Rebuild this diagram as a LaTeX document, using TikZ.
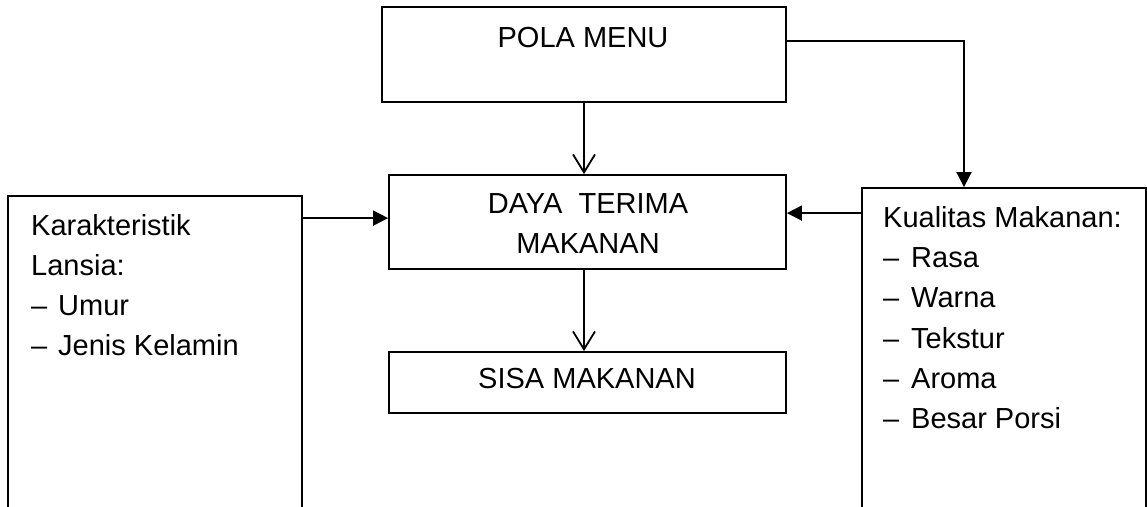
\documentclass[tikz,border=0pt]{standalone}
\usepackage{fontspec}
\setmainfont{Liberation Sans}
\usetikzlibrary{arrows.meta}
\begin{document}
\begin{tikzpicture}[x=1pt,y=-1pt,
  box/.style={draw, line width=1.8pt, rectangle, inner sep=0pt},
  txt/.style={font=\fontsize{29}{40}\selectfont, inner sep=0pt},
  lbl/.style={txt, anchor=base west},
  ctr/.style={txt, anchor=base},
  conn/.style={line width=1.8pt},
  fillarrow/.style={conn, -{Triangle[length=15pt,width=15pt]}},
  openarrow/.style={conn, -{Straight Barb[length=18pt,width=22pt]}}]
\useasboundingbox (0,0) rectangle (1147,506);
\clip (0,0) rectangle (1147,506);
% boxes
\node[box, minimum width=404pt, minimum height=95pt] (pola) at (584,54.5) {};
\node[box, minimum width=397pt, minimum height=94pt] (daya) at (587.5,222) {};
\node[box, minimum width=397pt, minimum height=61pt] (sisa) at (587.5,382.5) {};
\node[box, minimum width=294pt, minimum height=404pt] (kar) at (155,398) {};
\node[box, minimum width=284pt, minimum height=412pt] (kual) at (1004,394) {};
% texts
\node[ctr] (tpola) at (583,47) {POLA MENU};
\node[ctr] (tdaya1) at (588,213) {DAYA\ \ TERIMA};
\node[ctr] (tdaya2) at (588,253) {MAKANAN};
\node[ctr] (tsisa) at (587,388) {SISA MAKANAN};
% left box text
\node[lbl] (k1) at (31,235) {Karakteristik};
\node[lbl] (k2) at (31,275) {Lansia:};
\node[lbl] (k3d) at (31,315) {–};
\node[lbl] (k3) at (58,315) {Umur};
\node[lbl] (k4d) at (31,355) {–};
\node[lbl] (k4) at (58,355) {Jenis Kelamin};
% right box text
\node[lbl] (q0) at (883,227) {Kualitas Makanan:};
\node[lbl] (q1d) at (883,267) {–};
\node[lbl] (q1) at (911,267) {Rasa};
\node[lbl] (q2d) at (883,307) {–};
\node[lbl] (q2) at (911,307) {Warna};
\node[lbl] (q3d) at (883,348) {–};
\node[lbl] (q3) at (911,348) {Tekstur};
\node[lbl] (q4d) at (883,388) {–};
\node[lbl] (q4) at (911,388) {Aroma};
\node[lbl] (q5d) at (883,428) {–};
\node[lbl] (q5) at (911,428) {Besar Porsi};
% connectors
\draw[openarrow] (pola.south) -- (pola.south |- daya.north);
\draw[openarrow] (pola.south |- daya.south) -- (pola.south |- sisa.north);
\coordinate (ka) at ([yshift=-23pt]kar.north east);
\draw[fillarrow] (ka) -- (daya.west |- ka);
\coordinate (qa) at ([yshift=-26pt]kual.north west);
\draw[fillarrow] (qa) -- (daya.east |- qa);
\coordinate (bend) at (964,41);
\draw[fillarrow] (pola.east |- bend) -- (bend) -- (bend |- kual.north);
\end{tikzpicture}
\end{document}
